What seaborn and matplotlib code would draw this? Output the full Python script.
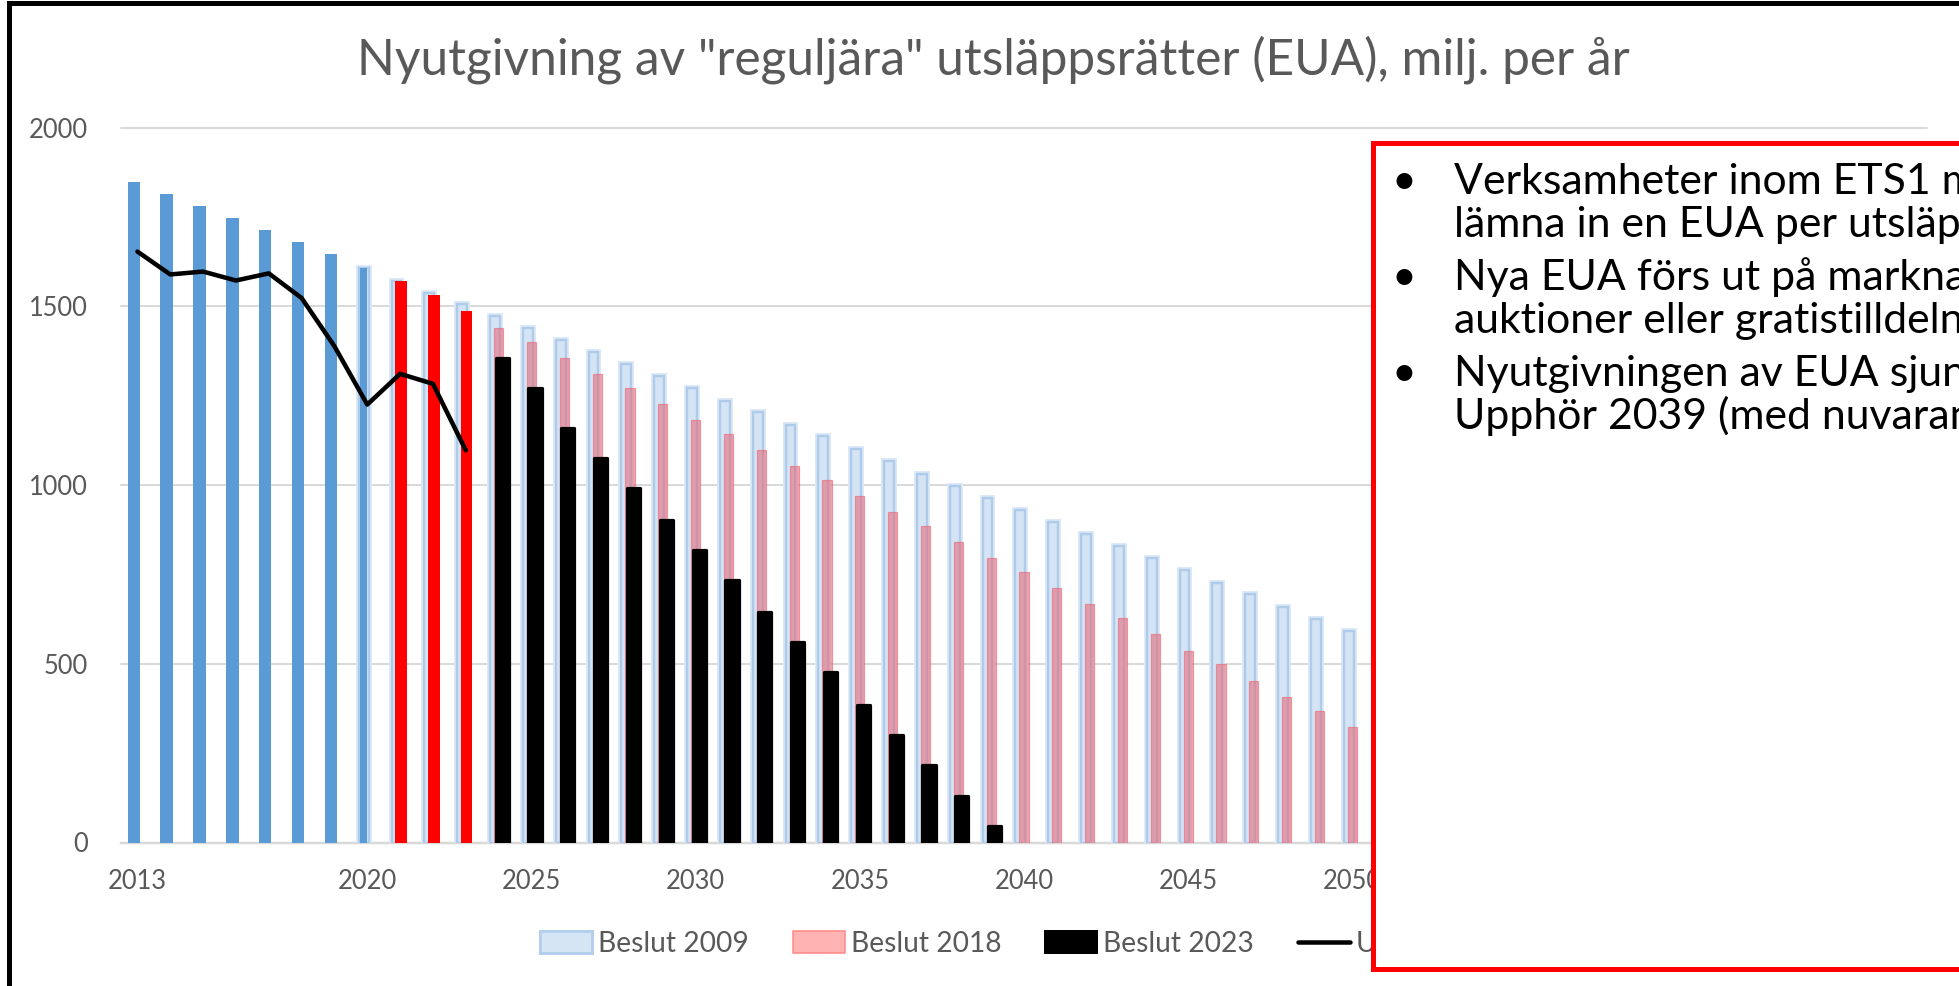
import numpy as np
import pandas as pd
import matplotlib
matplotlib.use("Agg")
import matplotlib.pyplot as plt
import seaborn as sns
from matplotlib.patches import Rectangle, Patch
from matplotlib.lines import Line2D

# ---------------- data ----------------
years_2009_hist = [2013, 2014, 2015, 2016, 2017, 2018, 2019, 2020]
beslut2009_hist = [1848, 1814, 1781, 1748, 1714, 1681, 1646, 1606]

years_2009 = list(range(2020, 2051))
beslut2009 = [1606, 1572, 1538, 1506, 1472, 1439, 1405, 1372, 1338, 1304,
              1271, 1236, 1203, 1169, 1136, 1100, 1066, 1032, 998, 964,
              930, 896, 862, 829, 795, 761, 727, 694, 660, 626, 593]

years_2018_hist = [2021, 2022, 2023]
beslut2018_hist = [1570, 1531, 1486]

years_2018 = list(range(2024, 2051))
beslut2018 = [1440, 1400, 1356, 1311, 1272, 1227, 1182, 1142, 1097, 1053,
              1013, 969, 924, 885, 840, 796, 757, 712, 667, 627,
              582, 537, 498, 453, 408, 369, 324]

years_2023 = list(range(2024, 2040))
beslut2023 = [1356, 1272, 1160, 1076, 992, 902, 819, 734, 644, 560,
              476, 386, 302, 218, 129, 45]

years_utslapp = list(range(2013, 2024))
utslapp = [1653, 1589, 1597, 1572, 1592, 1523, 1388, 1225, 1311, 1283, 1097]

tick_years = [2013, 2020, 2025, 2030, 2035, 2040, 2045, 2050, 2055, 2060, 2065]
y_ticks = [0, 500, 1000, 1500, 2000]

legend_labels = ["Beslut 2009", "Beslut 2018", "Beslut 2023", "Utsläpp"]
title_text = 'Nyutgivning av "reguljära" utsläppsrätter (EUA), milj. per år'
box_lines = [
    ["Verksamheter inom ETS1 måste", "lämna in en EUA per utsläppt ton"],
    ["Nya EUA förs ut på marknaden genom", "auktioner eller gratistilldelning"],
    ["Nyutgivningen av EUA sjunker varje år.", "Upphör 2039 (med nuvarande regler)"],
]

# ---------------- styling ----------------
W, H = 1959, 986
sns.set_style("white")
plt.rcParams["font.family"] = ["Lato", "DejaVu Sans"]
GREY = "#595959"

fig = plt.figure(figsize=(W / 100, H / 100), dpi=100)
fig.patch.set_facecolor("white")
renderer = fig.canvas.get_renderer()


def fit_size(s, target_px, base=20.0, **kw):
    t = fig.text(0, 0, s, fontsize=base, **kw)
    w = t.get_window_extent(renderer=renderer).width
    t.remove()
    return base * target_px / w


PX = 72 / 100  # points per pixel

ax_left, ax_right = 121, 1927
ax_top, ax_bottom = 127.5, 842.5
ax = fig.add_axes([ax_left / W, 1 - ax_bottom / H,
                   (ax_right - ax_left) / W, (ax_bottom - ax_top) / H])


def bars(years, vals, offset, width, **kw):
    df = pd.DataFrame({"x": np.asarray(years, dtype=float) + offset, "y": vals})
    sns.barplot(data=df, x="x", y="y", native_scale=True, width=width,
                errorbar=None, saturation=1, ax=ax, **kw)


OFF_BLUE, OFF_PINK, OFF_BLACK = -0.11, 0.0, 0.107

# Beslut 2009 - light outlined bars (halo + ring)
bars(years_2009, beslut2009, OFF_BLUE, 0.30, color="#d4e4f4",
     edgecolor="#dde9f6", linewidth=6 * PX, zorder=2)
bars(years_2009, beslut2009, OFF_BLUE, 0.30, color="#d4e4f4",
     edgecolor="#aecbea", linewidth=2.4 * PX, zorder=2.1)
# Beslut 2009 - historical solid bars
bars(years_2009_hist[:-1], beslut2009_hist[:-1], -0.11, 0.38,
     color="#5b9bd5", linewidth=0, zorder=2.2)
bars(years_2009_hist[-1:] * 2, beslut2009_hist[-1:] * 2, OFF_BLUE, 0.20,
     color="#5b9bd5", linewidth=0, zorder=2.2)
# Beslut 2018
bars(years_2018, beslut2018, OFF_PINK, 0.28, color=(0.90, 0.43, 0.49),
     edgecolor="#f06070", linewidth=1.2 * PX, alpha=0.6, zorder=3)
bars(years_2018_hist, beslut2018_hist, 0.02, 0.36, color="#ff0000",
     linewidth=0, zorder=3.1)
# Beslut 2023
bars(years_2023, beslut2023, OFF_BLACK, 0.40, color="black",
     edgecolor="black", linewidth=3.2 * PX, joinstyle="round", zorder=4)
# Utsläpp line
sns.lineplot(x=years_utslapp, y=utslapp, color="black", linewidth=4.5 * PX,
             ax=ax, zorder=5, solid_capstyle="round", solid_joinstyle="round")

ax.set_xlim(2012.5, 2067.5)
ax.set_ylim(0, 2000)
ax.set_xlabel("")
ax.set_ylabel("")

fs_tick = fit_size("2013", 59)
ax.set_xticks(tick_years)
ax.set_xticklabels([str(y) for y in tick_years])
ax.set_yticks(y_ticks)
ax.set_yticklabels([str(v) for v in y_ticks])
ax.tick_params(axis="both", length=0, colors=GREY, labelsize=fs_tick)
ax.tick_params(axis="x", pad=19)
ax.tick_params(axis="y", pad=24)

ax.yaxis.grid(True, color="#d9d9d9", linewidth=2 * PX)
ax.xaxis.grid(False)
ax.set_axisbelow(True)
for line in ax.get_ygridlines():
    line.set_clip_on(False)
for side in ["top", "right", "left"]:
    ax.spines[side].set_visible(False)
ax.spines["bottom"].set_color("#d9d9d9")
ax.spines["bottom"].set_linewidth(2.5 * PX)
ax.spines["bottom"].set_zorder(1)

# Title
fs_title = fit_size(title_text, 1275)
fig.text(993 / W, 1 - 60 / H, title_text, ha="center", va="center",
         color=GREY, fontsize=fs_title)

# Legend
fs_leg = fit_size("Beslut 2009", 150)
fpx = fs_leg / PX
handles = [
    Patch(facecolor="#d6e5f4", edgecolor="#b4d0ec", linewidth=3 * PX),
    Patch(facecolor="#ffb3b3", edgecolor="#ff8585", linewidth=1.5 * PX),
    Patch(facecolor="black", edgecolor="black", linewidth=2 * PX, joinstyle="round"),
    Line2D([], [], color="black", linewidth=4.5 * PX, solid_capstyle="round"),
]
fig.legend(handles, legend_labels, ncol=4, loc="center left",
           bbox_to_anchor=(540 / W, 1 - 944 / H), frameon=False,
           fontsize=fs_leg, labelcolor=GREY, handlelength=52 / fpx,
           handleheight=23 / fpx, handletextpad=6 / fpx,
           columnspacing=44 / fpx, borderpad=0, borderaxespad=0)

# Outer frame (cropped screenshot border)
fig.add_artist(Rectangle((8.5 / W, -0.1), 2.0, 1.1 - 3.5 / H,
                         transform=fig.transFigure, fill=False,
                         edgecolor="black", linewidth=5 * PX, zorder=20))

# Red text box covering the right part
fig.add_artist(Rectangle((1372.5 / W, 1 - 969 / H), 2.0, (969 - 142.5) / H,
                         transform=fig.transFigure, facecolor="white",
                         edgecolor="#ff0000", linewidth=5 * PX, zorder=15))

fs_box = fit_size("Verksamheter inom ETS1", 478)
baselines = [[194, 237], [290, 333], [386, 429]]
for para, bl in zip(box_lines, baselines):
    fig.text(1404 / W, 1 - bl[0] / H, "•", ha="center", va="baseline",
             fontsize=fs_box, color="black", zorder=16)
    for txt, b in zip(para, bl):
        fig.text(1454 / W, 1 - b / H, txt, ha="left", va="baseline",
                 fontsize=fs_box, color="black", zorder=16)

fig.savefig("out.png", dpi=100)
